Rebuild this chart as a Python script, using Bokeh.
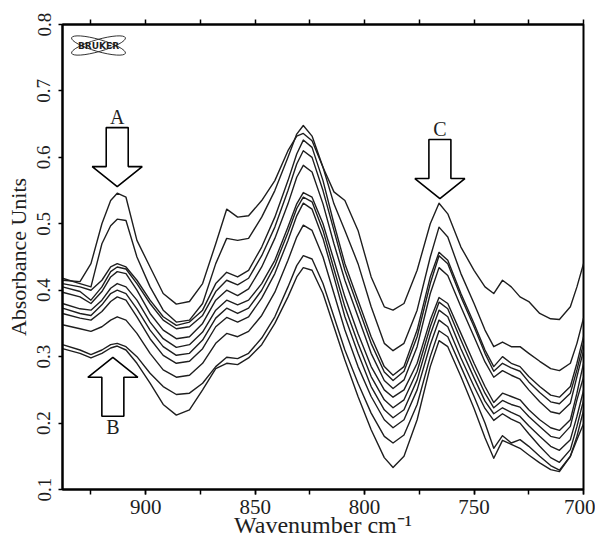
import math
from bokeh.plotting import figure
from bokeh.models import Range1d, LinearAxis, SingleIntervalTicker, FixedTicker, CustomJSTickFormatter
from bokeh.core.properties import value
from bokeh.embed import file_html
from bokeh.resources import INLINE

# ---------------- data ----------------
WAVENUMBER = [938, 930, 925, 920, 916, 913, 909, 904, 898, 892,
              886, 880, 874, 868, 863, 858, 853, 847, 841, 835,
              831, 828, 824, 819, 814, 809, 803, 797, 791, 787,
              782, 776, 770, 766, 762, 756, 750, 745, 741, 737,
              733, 729, 725, 720, 715, 711, 706, 703, 700]

S1 = [0.415, 0.413, 0.440, 0.500, 0.535, 0.546, 0.540, 0.475, 0.435, 0.395,
      0.379, 0.383, 0.410, 0.470, 0.522, 0.510, 0.512, 0.535, 0.565, 0.610,
      0.632, 0.636, 0.625, 0.585, 0.548, 0.535, 0.490, 0.420, 0.375, 0.370,
      0.380, 0.430, 0.500, 0.531, 0.515, 0.465, 0.430, 0.405, 0.395, 0.415,
      0.405, 0.390, 0.383, 0.365, 0.357, 0.356, 0.375, 0.405, 0.440]
S2 = [0.418, 0.410, 0.405, 0.470, 0.497, 0.507, 0.505, 0.450, 0.405, 0.370,
      0.352, 0.355, 0.380, 0.440, 0.478, 0.475, 0.478, 0.510, 0.550, 0.600,
      0.635, 0.648, 0.632, 0.585, 0.530, 0.490, 0.440, 0.375, 0.320, 0.309,
      0.320, 0.370, 0.450, 0.495, 0.480, 0.425, 0.380, 0.340, 0.315, 0.322,
      0.315, 0.315, 0.305, 0.293, 0.282, 0.279, 0.290, 0.320, 0.358]
S3 = [0.410, 0.405, 0.400, 0.415, 0.435, 0.440, 0.435, 0.415, 0.385, 0.360,
      0.347, 0.352, 0.370, 0.410, 0.427, 0.420, 0.430, 0.465, 0.510, 0.565,
      0.605, 0.626, 0.615, 0.565, 0.500, 0.440, 0.385, 0.330, 0.285, 0.272,
      0.285, 0.340, 0.420, 0.457, 0.445, 0.395, 0.350, 0.310, 0.285, 0.300,
      0.290, 0.285, 0.270, 0.255, 0.242, 0.239, 0.255, 0.290, 0.330]
S4 = [0.405, 0.398, 0.385, 0.405, 0.428, 0.435, 0.432, 0.410, 0.380, 0.355,
      0.342, 0.345, 0.362, 0.398, 0.415, 0.408, 0.418, 0.452, 0.495, 0.550,
      0.590, 0.610, 0.600, 0.550, 0.490, 0.430, 0.375, 0.320, 0.277, 0.264,
      0.278, 0.330, 0.410, 0.452, 0.440, 0.390, 0.345, 0.305, 0.278, 0.290,
      0.283, 0.278, 0.262, 0.246, 0.232, 0.229, 0.245, 0.280, 0.320]
S5 = [0.397, 0.390, 0.380, 0.398, 0.420, 0.428, 0.425, 0.400, 0.365, 0.340,
      0.327, 0.330, 0.350, 0.385, 0.400, 0.392, 0.402, 0.435, 0.478, 0.530,
      0.570, 0.588, 0.578, 0.530, 0.470, 0.415, 0.360, 0.305, 0.264, 0.252,
      0.265, 0.315, 0.395, 0.434, 0.422, 0.375, 0.330, 0.292, 0.269, 0.279,
      0.272, 0.266, 0.250, 0.232, 0.217, 0.214, 0.230, 0.270, 0.309]
S6 = [0.380, 0.372, 0.370, 0.385, 0.403, 0.410, 0.405, 0.385, 0.352, 0.327,
      0.314, 0.318, 0.337, 0.370, 0.385, 0.378, 0.385, 0.410, 0.445, 0.495,
      0.530, 0.547, 0.540, 0.500, 0.445, 0.390, 0.335, 0.285, 0.250, 0.239,
      0.250, 0.290, 0.355, 0.389, 0.380, 0.335, 0.290, 0.255, 0.231, 0.245,
      0.240, 0.235, 0.220, 0.205, 0.193, 0.189, 0.205, 0.245, 0.290]
S7 = [0.373, 0.365, 0.362, 0.378, 0.395, 0.400, 0.395, 0.372, 0.340, 0.315,
      0.302, 0.305, 0.325, 0.358, 0.373, 0.365, 0.373, 0.400, 0.437, 0.487,
      0.523, 0.540, 0.533, 0.490, 0.432, 0.375, 0.320, 0.270, 0.235, 0.223,
      0.235, 0.278, 0.345, 0.382, 0.372, 0.325, 0.280, 0.245, 0.223, 0.234,
      0.228, 0.224, 0.210, 0.195, 0.180, 0.177, 0.195, 0.235, 0.269]
S8 = [0.365, 0.358, 0.355, 0.368, 0.383, 0.390, 0.385, 0.360, 0.327, 0.302,
      0.290, 0.293, 0.312, 0.345, 0.359, 0.352, 0.360, 0.388, 0.425, 0.475,
      0.512, 0.531, 0.522, 0.478, 0.420, 0.360, 0.305, 0.255, 0.220, 0.208,
      0.220, 0.265, 0.333, 0.370, 0.360, 0.312, 0.268, 0.233, 0.214, 0.223,
      0.216, 0.210, 0.196, 0.180, 0.165, 0.159, 0.175, 0.210, 0.249]
S9 = [0.348, 0.342, 0.338, 0.345, 0.355, 0.360, 0.355, 0.335, 0.305, 0.280,
      0.269, 0.272, 0.290, 0.320, 0.335, 0.330, 0.338, 0.362, 0.397, 0.445,
      0.480, 0.498, 0.490, 0.450, 0.395, 0.340, 0.285, 0.240, 0.205, 0.193,
      0.205, 0.250, 0.318, 0.355, 0.345, 0.298, 0.255, 0.222, 0.204, 0.214,
      0.206, 0.200, 0.184, 0.165, 0.148, 0.141, 0.160, 0.195, 0.234]
S10 = [0.318, 0.310, 0.303, 0.310, 0.318, 0.320, 0.315, 0.300, 0.275, 0.255,
       0.243, 0.245, 0.260, 0.285, 0.299, 0.297, 0.305, 0.328, 0.360, 0.405,
       0.437, 0.452, 0.447, 0.410, 0.360, 0.310, 0.260, 0.215, 0.180, 0.170,
       0.182, 0.228, 0.300, 0.339, 0.330, 0.285, 0.240, 0.200, 0.162, 0.181,
       0.170, 0.175, 0.165, 0.150, 0.136, 0.129, 0.150, 0.180, 0.219]
S11 = [0.312, 0.305, 0.298, 0.305, 0.313, 0.316, 0.310, 0.290, 0.260, 0.228,
       0.212, 0.220, 0.250, 0.282, 0.290, 0.288, 0.298, 0.318, 0.350, 0.390,
       0.420, 0.434, 0.430, 0.395, 0.345, 0.295, 0.240, 0.190, 0.148, 0.133,
       0.150, 0.205, 0.285, 0.324, 0.315, 0.270, 0.222, 0.178, 0.147, 0.174,
       0.168, 0.162, 0.152, 0.140, 0.130, 0.127, 0.150, 0.175, 0.199]
SPECTRA = [S1, S2, S3, S4, S5, S6, S7, S8, S9, S10, S11]

Y_TICKS = [0.1, 0.2, 0.3, 0.4, 0.5, 0.6, 0.7, 0.8]

ARROW_LABELS = ["A", "B", "C"]
ARROW_X = [913.0, 915.0, 765.6]
ARROW_TIP = [0.556, 0.299, 0.538]
ARROW_DIR = ["down", "up", "down"]

X_TITLE = "Wavenumber cm\u207b\u00b9"
Y_TITLE = "Absorbance Units"
LOGO_TEXT = "BRUKER"

# ---------------- geometry ----------------
X_START, X_END = 938, 700
Y_START, Y_END = 0.1, 0.8
FW, FH = 521, 465
SX = (X_START - X_END) / FW   # wavenumber per pixel
SY = (Y_END - Y_START) / FH   # absorbance per pixel
SERIF = "Liberation Serif"
INK = "#1e1e1e"

p = figure(frame_width=FW, frame_height=FH,
           x_range=Range1d(X_START, X_END), y_range=Range1d(Y_START, Y_END),
           output_backend="svg", toolbar_location=None,
           min_border_left=62, min_border_right=12,
           min_border_top=24, min_border_bottom=49)
p.xgrid.visible = False
p.ygrid.visible = False
p.outline_line_color = "black"
p.outline_line_width = 2
p.background_fill_color = "white"
p.border_fill_color = "white"

xa = p.xaxis[0]
xa.ticker = SingleIntervalTicker(interval=50, num_minor_ticks=2)
xa.major_label_text_font = SERIF
xa.major_label_text_font_size = "21px"
xa.major_label_text_color = INK
xa.major_tick_out = 5
xa.major_tick_in = 0
xa.minor_tick_out = 5
xa.minor_tick_in = 0
xa.axis_line_width = 2
xa.major_tick_line_width = 1.5
xa.minor_tick_line_width = 1.5
xa.major_label_standoff = 5
xa.axis_label = X_TITLE
xa.axis_label_text_font = SERIF
xa.axis_label_text_font_size = "24px"
xa.axis_label_text_font_style = "normal"
xa.axis_label_text_color = INK
xa.axis_label_standoff = -5

ya = p.yaxis[0]
ya.ticker = FixedTicker(ticks=Y_TICKS)
ya.major_label_text_font = SERIF
ya.major_label_text_font_size = "19px"
ya.major_label_text_color = INK
ya.major_label_orientation = "vertical"
ya.major_tick_out = 4
ya.major_tick_in = 0
ya.minor_tick_line_color = None
ya.axis_line_width = 2
ya.major_tick_line_width = 1.5
ya.major_label_standoff = 8
ya.axis_label = Y_TITLE
ya.axis_label_text_font = SERIF
ya.axis_label_text_font_size = "22px"
ya.axis_label_text_font_style = "normal"
ya.axis_label_text_color = INK
ya.axis_label_standoff = 4

top = LinearAxis(ticker=SingleIntervalTicker(interval=25, num_minor_ticks=0),
                 formatter=CustomJSTickFormatter(code="return ''"),
                 major_label_text_font_size="8px", major_label_standoff=0,
                 major_tick_out=5, major_tick_in=0, minor_tick_line_color=None,
                 axis_line_width=2, major_tick_line_width=1.5)
p.add_layout(top, "above")

# spectra
for ys in SPECTRA:
    p.line(WAVENUMBER, ys, line_color=INK, line_width=1.4, line_join="round")

# arrows
SHAPE = [(-11, 59), (11, 59), (11, 20), (25, 20), (0, 0), (-25, 20), (-11, 20)]
lx, ly = [], []
for lab, ax_, ay_, d in zip(ARROW_LABELS, ARROW_X, ARROW_TIP, ARROW_DIR):
    sgn = 1 if d == "down" else -1
    xs = [ax_ - px * SX for px, _ in SHAPE]
    ys = [ay_ + sgn * py * SY for _, py in SHAPE]
    p.patch(xs, ys, fill_color="white", line_color="black", line_width=1.6)
    lx.append(ax_)
    ly.append(ay_ + sgn * 70 * SY)
p.text(x=lx, y=ly, text=ARROW_LABELS, text_font=value(SERIF), text_font_size="20px",
       text_align="center", text_baseline="middle", text_color=INK)

# Bruker logo
logo_x = X_START - 36 * SX
logo_y = Y_END - 21 * SY
p.ellipse(x=[logo_x, logo_x], y=[logo_y, logo_y], width=56, height=12, angle=[0.28, -0.28],
          width_units="screen", height_units="screen", fill_color=None,
          line_color="#333333", line_width=1)
p.text(x=[logo_x], y=[logo_y], text=[LOGO_TEXT], text_font=value("DejaVu Sans"),
       text_font_size="9px", text_font_style="bold", text_align="center",
       text_baseline="middle", text_color=INK)

open("out.html", "w").write(file_html(p, INLINE))
